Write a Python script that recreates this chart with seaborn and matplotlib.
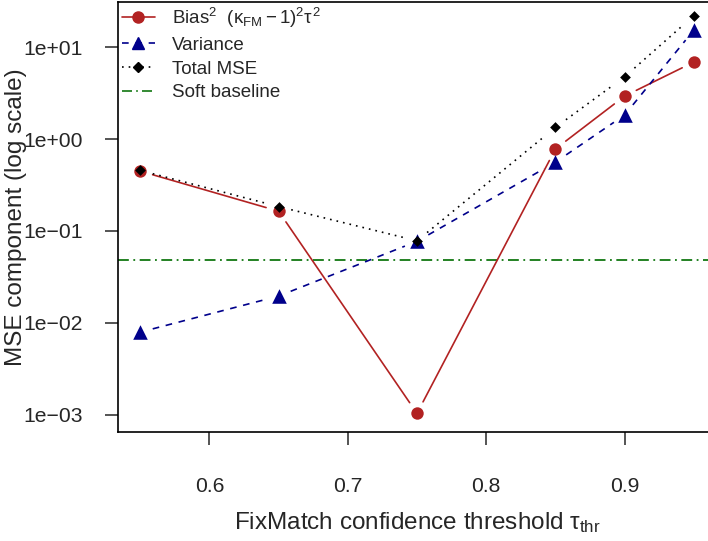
import numpy as np
import pandas as pd
import matplotlib
matplotlib.use("Agg")
import matplotlib.pyplot as plt
from matplotlib.lines import Line2D
import seaborn as sns

# valores
thresholds = [0.55, 0.65, 0.75, 0.85, 0.90, 0.95]
bias2 = [0.448, 0.164, 0.00103, 0.78, 2.94, 6.9]
variance = [0.0079, 0.0195, 0.077, 0.56, 1.83, 15.4]
total_mse = [0.456, 0.184, 0.078, 1.34, 4.77, 22.1]
soft_baseline = 0.048

x_ticks = [0.6, 0.7, 0.8, 0.9]
y_ticks = [1e-3, 1e-2, 1e-1, 1e0, 1e1]
y_labels = ["1e\u221203", "1e\u221202", "1e\u221201", "1e+00", "1e+01"]

sns.set_style("white")
plt.rcParams["font.family"] = ["Liberation Sans", "DejaVu Sans"]
plt.rcParams["mathtext.fontset"] = "custom"
plt.rcParams["mathtext.rm"] = "Liberation Sans"
plt.rcParams["mathtext.it"] = "Liberation Sans"

fig = plt.figure(figsize=(7.08, 5.41), dpi=100)
W, H = 708, 541
ax = fig.add_axes([118 / W, (541 - 432) / H, 598 / W, 430 / H])
ax.set_yscale("log")
ax.set_xlim(0.534, 0.966)
ax.set_ylim(10 ** -3.19, 10 ** 1.493)

df = pd.DataFrame({"thr": thresholds, "bias": bias2, "var": variance, "tot": total_mse})

red, blue, green = "#B22222", "#00008B", "#117711"


def gapped(xs, ys, gap=13, **kw):
    # lineas tipo "b" de R: segmentos cortados alrededor de los puntos
    pts = ax.transData.transform(np.column_stack([xs, ys]))
    inv = ax.transData.inverted()
    for p0, p1 in zip(pts[:-1], pts[1:]):
        d = p1 - p0
        L = np.hypot(*d)
        if L <= 2 * gap:
            continue
        u = d / L
        seg = inv.transform(np.array([p0 + u * gap, p1 - u * gap]))
        ax.plot(seg[:, 0], seg[:, 1], **kw)


ax.axhline(soft_baseline, color=green, ls=(0, (6, 2.5, 1, 2.5)), lw=1.3)
gapped(df["thr"], df["bias"], color=red, lw=1.2)
gapped(df["thr"], df["var"], color=blue, lw=1.2, ls=(0, (4, 4)))
gapped(df["thr"], df["tot"], color="black", lw=1.2, ls=(0, (1, 3)))

sns.scatterplot(data=df, x="thr", y="bias", marker="o", s=80, color=red, linewidth=0, ax=ax, zorder=3)
sns.scatterplot(data=df, x="thr", y="var", marker="^", s=110, color=blue, linewidth=0, ax=ax, zorder=3)
sns.scatterplot(data=df, x="thr", y="tot", marker="D", s=30, color="black", linewidth=0, ax=ax, zorder=4)

ax.set_xticks(x_ticks)
ax.set_xticklabels([str(t) for t in x_ticks])
ax.set_yticks(y_ticks)
ax.set_yticklabels(y_labels)
ax.minorticks_off()
ax.tick_params(axis="both", direction="out", length=9.5, width=1.1, labelsize=15.2,
               left=True, bottom=True)
ax.tick_params(axis="x", pad=23)
ax.tick_params(axis="y", pad=16)
for s in ax.spines.values():
    s.set_linewidth(1.2)
    s.set_color("black")

ax.set_xlabel(r"FixMatch confidence threshold $\tau_{\rm thr}$", fontsize=17.5)
ax.set_ylabel("MSE component (log scale)", fontsize=17.5)
ax.xaxis.set_label_coords(0.5, -0.182)
ax.yaxis.set_label_coords(-0.152, 0.5)

handles = [
    Line2D([], [], color=red, lw=1.2, marker="o", ms=8),
    Line2D([], [], color=blue, lw=1.2, ls=(0, (4, 4)), marker="^", ms=9),
    Line2D([], [], color="black", lw=1.2, ls=(0, (1, 3)), marker="D", ms=5),
    Line2D([], [], color=green, lw=1.2, ls=(0, (6, 2.5, 1, 2.5))),
]
labels = [r"Bias$^2$  $(\kappa_{\rm FM}-1)^2\tau^2$", "Variance", "Total MSE", "Soft baseline"]
ax.legend(handles, labels, loc="upper left", bbox_to_anchor=(0, 1), frameon=False,
          fontsize=13.5, handlelength=1.76, handletextpad=0.9, labelspacing=0.36,
          borderpad=0.05, borderaxespad=0.15)

fig.savefig("out.png", dpi=100)
